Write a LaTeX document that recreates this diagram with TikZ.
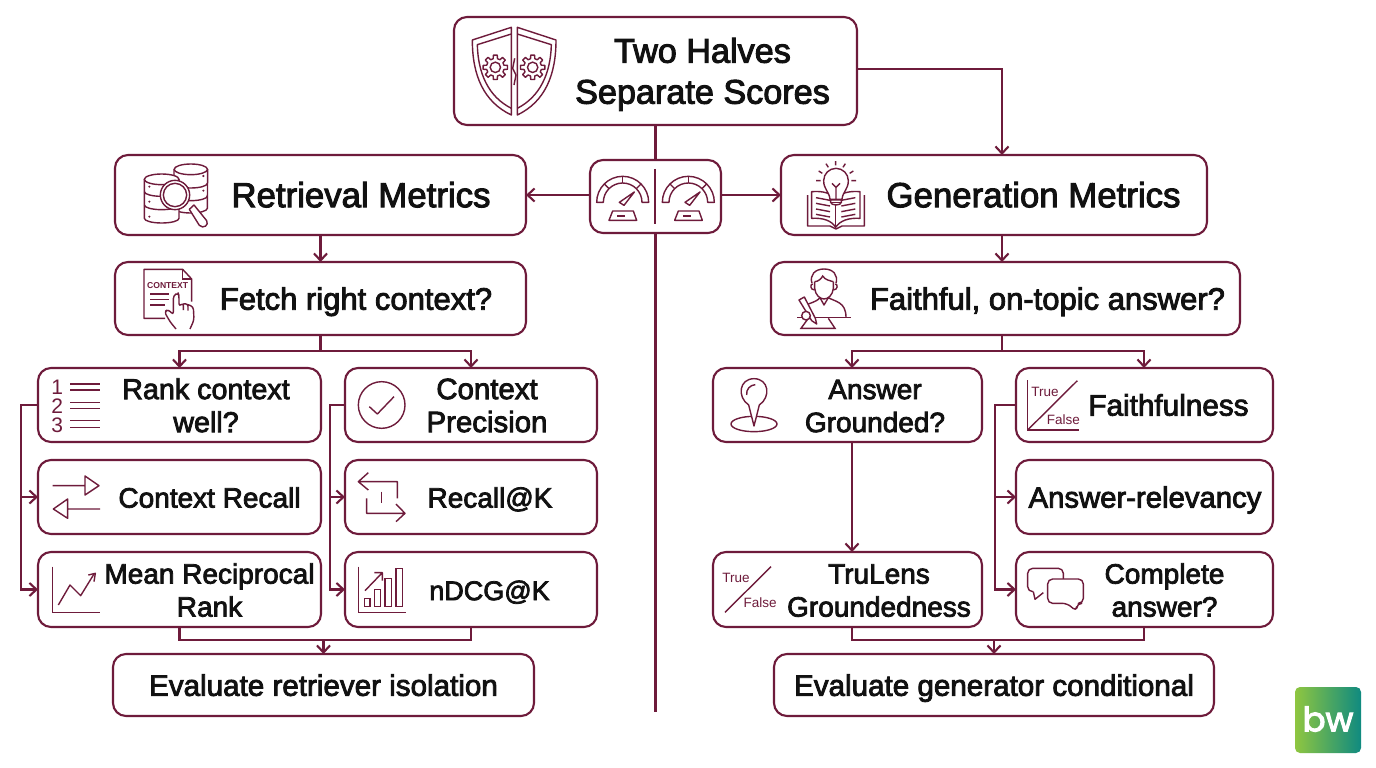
\documentclass[tikz,border=0pt]{standalone}
\usepackage{fontspec}
\setmainfont[FakeBold=2.8]{Liberation Sans}
\newfontfamily\icofont{Liberation Sans}
\newfontfamily\logofont[FakeBold=3]{Poppins}
\usetikzlibrary{arrows.meta}
\definecolor{wine}{HTML}{6E1B3B}
\definecolor{ink}{HTML}{111111}
\definecolor{logoL}{HTML}{8FC640}
\definecolor{logoR}{HTML}{0F8A80}
\newcommand\txt[2]{\hspace*{#1pt}\raisebox{-4pt}[\height][\depth]{\begin{tabular}{@{}c@{}}#2\end{tabular}}}
\newcommand\fz[1]{\fontsize{#1}{33}\selectfont}
\newcommand\bxn[7][]{\node[box,minimum width={(#4-#2)*1pt},minimum height={(#5-#3)*1pt},#1] (#6) at ({(#2+#4)/2},{(#3+#5)/2}) {#7};}
\newcommand\gearic[3]{%
 \begin{scope}[shift={(#1,#2)}]
 \draw[ico] (0,0) circle ({#3*.42});
 \draw[ico,line join=round] (-14:{#3*.72})
   \foreach \a in {0,45,...,315}{ -- (\a-14:{#3*.72}) -- (\a-9:#3) -- (\a+9:#3) -- (\a+14:{#3*.72})} -- cycle;
 \end{scope}}
\newcommand\gaugeic[1]{%
 \begin{scope}[shift={(#1,0)}]
 \draw[ico,line join=round] (470,607) arc (180:360:78) -- (606,607) arc (360:180:58) -- cycle;
 \draw[ico] (548,529) -- (548,549);
 \draw[ico] (493,552) -- (507,566);
 \draw[ico] (603,552) -- (589,566);
 \draw[ico,line join=round] (538,607) -- (583,576) -- (552,616) -- cycle;
 \draw[ico,line join=round] (518,633) -- (580,633) -- (590,661) -- (507,661) -- cycle;
 \draw[ico] (532,648) -- (556,648);
 \end{scope}}
\tikzset{
 x=1pt,y=-1pt,
 box/.style={draw=wine,line width=2.1pt,rounded corners=13pt,fill=white,inner sep=0pt,outer sep=0pt,align=center,text=ink},
 fL/.style={font=\fontsize{34.2}{41}\selectfont},
 fR/.style={font=\fontsize{34.8}{41}\selectfont},
 fM/.style={font=\fontsize{31}{36}\selectfont},
 fS/.style={font=\fontsize{28}{33}\selectfont},
 fE/.style={font=\fontsize{29.6}{34}\selectfont},
 conn/.style={draw=wine,line width=2.1pt},
 arr/.style={conn,-{Straight Barb[length=7pt,width=13pt,line width=2.1pt]}},
 ico/.style={draw=wine,line width=1.4pt},
 icoW/.style={ico,fill=white},
 tf/.style={text=wine,inner sep=0pt,font=\icofont\fontsize{13.5}{14}\selectfont},
}
\begin{document}
\begin{tikzpicture}
\useasboundingbox (0,0) rectangle (1376,768);
\fill[white] (0,0) rectangle (1376,768);

% ---------- boxes
\bxn[fL]{454}{17}{857}{125}{top}{\txt{94}{Two Halves\\Separate Scores}}
\bxn{590}{160}{721}{233}{gauge}{}
\bxn[fR]{115}{155}{526}{235}{ret}{\txt{81}{Retrieval Metrics}}
\bxn[fR]{781}{155}{1207}{235}{gen}{\txt{79}{Generation Metrics}}
\bxn[fM]{115}{262}{526}{335}{fetch}{\txt{71}{Fetch right context?}}
\bxn[fM]{771}{262}{1240}{335}{faith}{\txt{84}{Faithful, on-topic answer?}}
\bxn[fS]{38}{368}{321}{442}{rank}{\txt{53}{\fz{28.7}Rank context\\\fz{28.7}well?}}
\bxn[fS]{38}{460}{321}{534}{recall}{\txt{60}{Context Recall}}
\bxn[fS]{38}{552}{321}{627}{mrr}{\txt{60}{Mean Reciprocal\\Rank}}
\bxn[fS]{345}{368}{597}{442}{prec}{\txt{32}{\fz{29.4}Context\\\fz{29.4}Precision}}
\bxn[fS]{345}{460}{597}{534}{reck}{\txt{38}{Recall@K}}
\bxn[fS]{345}{552}{597}{627}{ndcg}{\txt{37}{\fz{27}nDCG@K}}
\bxn[fS]{713}{368}{982}{442}{ground}{\txt{55}{Answer\\Grounded?}}
\bxn[fS]{713}{552}{982}{627}{tru}{\txt{63}{TruLens\\Groundedness}}
\bxn[fS]{1016}{368}{1273}{442}{ffn}{\txt{48}{\fz{29.7}Faithfulness}}
\bxn[fS]{1016}{460}{1273}{534}{relev}{\txt{1}{\fz{29.3}Answer-relevancy}}
\bxn[fS]{1016}{552}{1273}{627}{compl}{\txt{40}{Complete\\answer?}}
\bxn[fE]{113}{654}{534}{716}{evr}{\txt{0}{Evaluate retriever isolation}}
\bxn[fE]{774}{654}{1214}{716}{evg}{\txt{0}{Evaluate generator conditional}}

% ---------- rails and junctions
\coordinate (spineEnd) at (655.5,712);
\coordinate (genIn) at (1002,69);
\coordinate (retBus) at (321,351);
\coordinate (genBus) at (1002,351);
\coordinate (railA) at (21,497);
\coordinate (railB) at (330,497);
\coordinate (railC) at (995,497);
\coordinate (retJoin) at (323.5,640);
\coordinate (genJoin) at (994,640);
\coordinate (gndX) at (852,405);
\coordinate (ffnX) at (1144,351);

% ---------- connectors
\draw[conn] (top.south) -- (gauge.north);
\draw[conn] (gauge.south) -- (spineEnd);
\draw[arr] (gauge.west |- ret.east) -- (ret.east);
\draw[arr] (gauge.east |- gen.west) -- (gen.west);
\draw[arr] (top.east |- genIn) -- (genIn) -- (gen.north -| genIn);
\draw[arr] (ret.south) -- (fetch.north);
\draw[arr] (gen.south -| genIn) -- (faith.north -| genIn);
\draw[conn] (fetch.south) -- (retBus -| fetch.south);
\draw[arr] (retBus -| fetch.south) -- (retBus -| rank.north) -- (rank.north);
\draw[arr] (retBus -| fetch.south) -- (retBus -| prec.north) -- (prec.north);
\draw[conn] (faith.south -| genBus) -- (genBus);
\draw[arr] (genBus) -- (genBus -| gndX) -- (ground.north -| gndX);
\draw[arr] (genBus) -- (ffnX) -- (ffn.north -| ffnX);
\draw[arr] (ground.south -| gndX) -- (tru.north -| gndX);
\draw[arr] (rank.west) -- (rank.west -| railA) -- (mrr.west -| railA) -- (mrr.west);
\draw[arr] (railA) -- (recall.west);
\draw[arr] (prec.west) -- (prec.west -| railB) -- (ndcg.west -| railB) -- (ndcg.west);
\draw[arr] (railB) -- (reck.west);
\draw[arr] (ffn.west) -- (ffn.west -| railC) -- (compl.west -| railC) -- (compl.west);
\draw[arr] (railC) -- (relev.west);
\draw[conn] (mrr.south) -- (mrr.south |- retJoin) -- (ndcg.south |- retJoin) -- (ndcg.south);
\draw[arr] (retJoin) -- (evr.north);
\draw[conn] (tru.south -| gndX) -- (gndX |- genJoin) -- (ffnX |- genJoin) -- (compl.south -| ffnX);
\draw[arr] (genJoin) -- (evg.north);

% ---------- shield (zoom origin 440,0)
\begin{scope}[shift={(440,0)},scale=1/3]
 \draw[ico,line join=round] (214,82) -- (97,120) .. controls (97,225) and (130,305) .. (214,345) -- cycle;
 \draw[ico,line join=round] (232,82) -- (348,120) .. controls (348,225) and (315,305) .. (232,345) -- cycle;
 \draw[ico,line join=round] (214,102) -- (112,134) .. controls (114,220) and (145,290) .. (214,325);
 \draw[ico,line join=round] (232,102) -- (334,134) .. controls (332,220) and (300,290) .. (232,325);
 \draw[ico] (224,175) -- (218,205) -- (228,225) -- (222,255);
 \gearic{166}{202}{37}
 \gearic{278}{202}{37}
 \gaugeic{0}
 \gaugeic{197}
 \draw[conn] (645,507) -- (645,672);
\end{scope}

% ---------- database (zoom origin 100,150)
\begin{scope}[shift={(100,150)},scale=1/3]
 \draw[icoW] (222,58) -- (222,175) arc (180:0:50 and 14) -- (323,58);
 \draw[icoW] (272.5,58) ellipse (50 and 16);
 \draw[ico] (222,100) arc (180:0:50 and 14);
 \draw[ico] (222,138) arc (180:0:50 and 14);
 \draw[icoW] (133,88) -- (133,205) arc (180:0:52 and 14) -- (237,88);
 \draw[icoW] (185,88) ellipse (52 and 16);
 \draw[ico] (133,125) arc (180:0:52 and 14);
 \draw[ico] (133,165) arc (180:0:52 and 14);
 \foreach \p in {(148,110),(148,155),(148,200),(310,78),(310,122)} \fill[wine] \p circle (3.5);
 \draw[icoW,line join=round] (268,178) -- (298,226) .. controls (310,238) and (328,225) .. (320,212) -- (282,165) -- cycle;
 \draw[icoW] (225,135) circle (44);
 \draw[ico] (225,135) circle (35);
\end{scope}

% ---------- context page
\begin{scope}[shift={(100,150)},scale=1/3]
 \draw[ico,line join=round] (195,505) -- (132,505) -- (132,358) -- (248,358) -- (275,387) -- (275,455);
 \draw[ico] (248,358) -- (248,387) -- (275,387);
 \node[inner sep=0pt,text=wine] (ctxw) at (203,407) {\icofont\bfseries\fontsize{8.6}{9}\selectfont CONTEXT};
 \draw[ico] (150,432) -- (207,432) (150,448) -- (207,448) (150,465) -- (195,465);
 \draw[icoW,line join=round,rounded corners=3pt] (228,537) -- (210,515) -- (193,485) -- (205,478) -- (220,495) -- (220,437) -- (234,428) -- (237,437) -- (237,470) -- (250,458) -- (250,480) (250,462) -- (264,460) -- (264,482) (264,464) -- (280,470) -- (282,510) -- (270,537);
\end{scope}

% ---------- bulb and book (zoom origin 770,150)
\begin{scope}[shift={(770,150)},scale=1/3]
 \draw[ico,line join=round] (113,135) -- (113,228) -- (180,228) -- (198,237) -- (216,228) -- (283,228) -- (283,135);
 \draw[ico,line join=round] (125,125) .. controls (160,122) and (185,130) .. (197,148) .. controls (210,130) and (235,122) .. (270,125) -- (270,205) .. controls (235,203) and (210,212) .. (197,232) .. controls (185,212) and (160,203) .. (125,205) -- cycle;
 \draw[ico] (197,148) -- (197,232);
 \foreach \yy in {143,160,177,193}{
   \draw[ico] (138,\yy) -- (180,\yy+8);
   \draw[ico] (256,\yy) -- (214,\yy+8);
 }
 \draw[icoW] (180,148) .. controls (178,125) and (161,118) .. (161,92) arc (180:360:37) .. controls (235,118) and (218,125) .. (216,148) -- cycle;
 \draw[ico] (198,148) -- (198,112) (198,112) -- (186,100) (198,112) -- (210,100);
 \draw[icoW] (182,150) -- (214,150) -- (214,157) arc (0:180:16 and 8) -- cycle;
 \draw[ico] (183,158) -- (213,158);
 \draw[ico] (197,33) -- (197,46) (168,41) -- (175,52) (226,41) -- (219,52) (146,63) -- (157,70) (250,63) -- (239,70) (138,92) -- (152,92) (258,92) -- (244,92);
\end{scope}

% ---------- person writing
\begin{scope}[shift={(770,150)},scale=1/3]
 \draw[ico] (82,503) -- (242,503);
 \draw[ico] (115,505) -- (93,535) -- (195,535) -- (175,505);
 \draw[ico,line join=round] (115,462) .. controls (135,455) and (145,450) .. (150,443) -- (162,465) -- (175,443) .. controls (195,455) and (228,455) .. (228,502);
 \draw[ico] (134,395) -- (134,415) .. controls (136,435) and (150,447) .. (162,447) .. controls (175,447) and (188,435) .. (190,415) -- (190,395);
 \draw[ico] (134,395) .. controls (145,395) and (155,385) .. (158,378) .. controls (165,390) and (180,392) .. (190,395);
 \draw[ico] (126,400) .. controls (118,375) and (135,357) .. (162,357) .. controls (190,357) and (205,375) .. (198,400);
 \draw[ico] (128,402) .. controls (120,402) and (120,420) .. (134,420);
 \draw[ico] (196,402) .. controls (204,402) and (204,420) .. (190,420);
 \draw[icoW,line join=round] (87,450) -- (103,441) -- (136,505) -- (140,522) -- (125,512) -- cycle;
 \draw[icoW] (108,497) circle (13);
\end{scope}

% ---------- rank list (zoom origin 20,350)
\begin{scope}[shift={(20,350)},scale=1/3]
 \node[tf,font=\icofont\fontsize{21}{22}\selectfont] (n1) at (112,112) {1};
 \node[tf,font=\icofont\fontsize{21}{22}\selectfont] (n2) at (112,168) {2};
 \node[tf,font=\icofont\fontsize{21}{22}\selectfont] (n3) at (112,225) {3};
 \draw[ico] (150,102) -- (240,102) (150,120) -- (240,120) (150,157) -- (240,157) (150,175) -- (240,175) (150,212) -- (240,212) (150,232) -- (240,232);
 % swap arrows
 \draw[ico,line join=round] (98,407) -- (195,407) (195,378) -- (237,407) -- (195,435) -- cycle;
 \draw[ico,line join=round] (240,477) -- (143,477) (143,447) -- (100,477) -- (143,505) -- cycle;
 % line chart
 \draw[ico] (97,650) -- (97,787) -- (240,787);
 \draw[ico,line join=round] (115,765) -- (150,705) -- (182,737) -- (222,672);
 \draw[ico,line join=round] (205,675) -- (226,670) -- (222,695);
\end{scope}

% ---------- check, recall, bars (zoom origin 320,350)
\begin{scope}[shift={(320,350)},scale=1/3]
 \draw[ico] (185,165) circle (70);
 \draw[ico,line join=round] (148,170) -- (172,192) -- (222,140);
 \draw[ico,line join=round] (145,368) -- (115,395) -- (145,420) (115,395) -- (232,395) -- (232,445);
 \draw[ico,line join=round] (228,462) -- (255,490) -- (228,515) (255,490) -- (140,490) -- (140,445);
 \draw[ico] (185,425) -- (185,460);
 \draw[ico] (115,650) -- (115,787) -- (258,787);
 \draw[ico] (133,745) rectangle (150,770) (163,718) rectangle (182,770) (195,685) rectangle (215,770) (228,655) rectangle (247,770);
 \draw[ico,line join=round] (135,722) -- (187,668) (163,668) -- (187,668) -- (187,692);
\end{scope}

% ---------- pin, true/false (zoom origin 700,350)
\begin{scope}[shift={(700,350)},scale=1/3]
 \draw[ico] (162,222) ellipse (69 and 23);
 \draw[icoW,line join=round] (162,228) -- (146,165) .. controls (110,140) and (118,86) .. (162,86) .. controls (206,86) and (214,140) .. (178,165) -- cycle;
 \draw[ico] (140,135) .. controls (138,118) and (150,105) .. (166,104);
 \draw[ico] (213,650) -- (75,787);
 \node[tf] (t1) at (108,683) {True};
 \node[tf] (f1) at (180,758) {False};
\end{scope}

% ---------- true/false axes, bubbles (zoom origin 980,350)
\begin{scope}[shift={(980,350)},scale=1/3]
 \draw[ico] (143,90) -- (143,240) -- (297,240);
 \draw[ico] (292,92) -- (143,240);
 \node[tf] (t2) at (195,125) {True};
 \node[tf] (f2) at (250,208) {False};
 \draw[ico,line join=round,rounded corners=5pt] (250,687) -- (250,655) -- (143,655) -- (143,725) -- (160,725);
 \draw[ico,line join=round] (160,725) -- (165,748) -- (190,728);
 \draw[icoW,line join=round,rounded corners=5pt] (203,687) -- (310,687) -- (310,760) -- (290,760) -- (290,785) -- (262,760) -- (203,760) -- cycle;
\end{scope}

% ---------- logo
\shade[left color=logoL,right color=logoR,rounded corners=5pt] (1295,687) rectangle (1361,753);
\node[inner sep=0pt,text=white] (logo) at (1328,719) {\logofont\fontsize{34}{34}\selectfont bw};
\end{tikzpicture}
\end{document}
